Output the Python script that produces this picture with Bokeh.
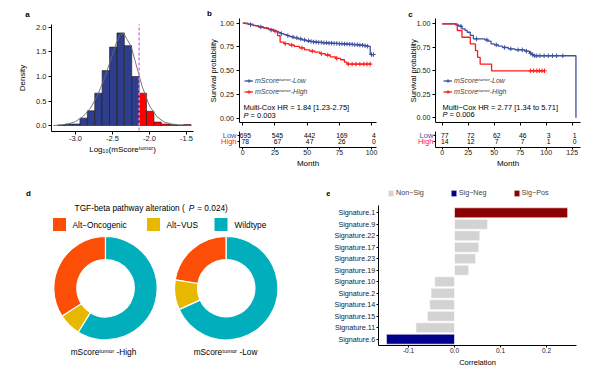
import numpy as np
from bokeh.plotting import figure
from bokeh.layouts import row, column
from bokeh.models import (Range1d, Label, LinearAxis, Legend, LegendItem, FixedTicker,
                          NumeralTickFormatter)
from bokeh.core.properties import value
from bokeh.embed import file_html
from bokeh.resources import INLINE

FONT = "Liberation Sans"
HIST_BLUE = "#2E3D8C"
HIST_RED = "#FF0000"
KM_BLUE = "#3E4FA3"
KM_RED = "#FF1A1A"

# ---------------- panel a data ----------------
hist_left = [-3.24, -3.14, -3.04, -2.94, -2.84, -2.74, -2.64, -2.54, -2.44,
             -2.34, -2.24, -2.14, -2.04, -1.94, -1.84, -1.74, -1.64, -1.54]
hist_density = [0.01, 0.03, 0.03, 0.15, 0.30, 0.66, 1.12, 1.60, 1.89,
                1.63, 1.00, 0.66, 0.29, 0.07, 0.03, 0.02, 0.01, 0.02]
bin_width = 0.1
cutoff = -2.14
dens_x = [-3.30, -3.20, -3.10, -3.00, -2.90, -2.80, -2.70, -2.60, -2.50, -2.45,
          -2.40, -2.35, -2.30, -2.25, -2.20, -2.10, -2.00, -1.90, -1.80, -1.70,
          -1.60, -1.50, -1.43]
dens_y = [0.0, 0.01, 0.03, 0.08, 0.18, 0.35, 0.62, 1.00, 1.45, 1.68,
          1.85, 1.88, 1.75, 1.62, 1.35, 0.80, 0.40, 0.18, 0.07, 0.03,
          0.01, 0.005, 0.0]
a_xticks = [-3.0, -2.5, -2.0, -1.5]
a_yticks = [0.0, 0.5, 1.0, 1.5, 2.0]

# ---------------- panel b data ----------------
b_low_t = [0, 2, 4, 6, 8, 10, 12, 14, 16, 18, 20, 22, 24, 26, 28, 30, 32, 34, 36, 38,
           40, 43, 46, 49, 52, 55, 58, 62, 66, 70, 74, 78, 82, 86, 90, 94, 97, 99, 101.5]
b_low_s = [1.0, 0.995, 0.99, 0.985, 0.978, 0.972, 0.966, 0.96, 0.952, 0.944,
           0.936, 0.928, 0.92, 0.91, 0.9, 0.89, 0.88, 0.87, 0.862, 0.854,
           0.846, 0.835, 0.824, 0.815, 0.808, 0.802, 0.798, 0.794, 0.79, 0.787,
           0.784, 0.781, 0.778, 0.774, 0.769, 0.763, 0.757, 0.67, 0.67]
b_high_t = [0, 4, 8, 12, 16, 20, 24, 27, 29, 32, 36, 40, 44, 48, 52, 56, 60, 64,
            68, 72, 76, 79, 81, 99]
b_high_s = [1.0, 0.99, 0.975, 0.96, 0.95, 0.935, 0.915, 0.87, 0.80, 0.785, 0.77,
            0.755, 0.74, 0.72, 0.705, 0.695, 0.68, 0.665, 0.645, 0.63, 0.615,
            0.59, 0.57, 0.57]
b_low_cens = [6, 14, 22, 30, 35, 39, 42, 45, 48, 51, 53, 55, 57, 59, 61, 63, 65, 67,
              69, 71, 73, 75, 77, 79, 81, 83, 85, 87, 89, 91, 93, 95, 97, 100, 101.5]
b_high_cens = [25, 33, 38, 46, 54, 61, 66, 73, 82, 85, 88, 91, 94, 96.5, 99]
b_risk_months = [0, 25, 50, 75, 100]
b_risk_low = [695, 545, 442, 169, 4]
b_risk_high = [78, 67, 47, 26, 0]
b_hr_text = "Multi-Cox HR = 1.84 [1.23-2.75]"
b_p_text = "= 0.003"

# ---------------- panel c data ----------------
c_low_t = [0, 13, 16, 19, 22, 24, 27, 30, 41, 44, 47, 50, 54, 58, 63.5, 70, 79.5,
           84, 86, 88, 128.6]
c_low_s = [1.0, 0.987, 0.974, 0.947, 0.93, 0.91, 0.876, 0.84, 0.828, 0.815, 0.787,
           0.776, 0.762, 0.748, 0.734, 0.723, 0.709, 0.687, 0.672, 0.66, 0.0]
c_high_t = [0, 14.5, 19, 27, 32, 34, 36.5, 47.5, 98.4]
c_high_s = [1.0, 0.929, 0.857, 0.786, 0.714, 0.643, 0.571, 0.5, 0.5]
c_low_cens = [18, 33, 43, 52, 60, 66, 73, 77, 81, 85, 87, 89, 91, 94, 98, 102, 106,
              110, 116]
c_high_cens = [85, 88, 91, 93.5, 96, 98.4]
c_risk_months = [0, 25, 50, 75, 100, 125]
c_risk_low = [77, 72, 62, 46, 3, 1]
c_risk_high = [14, 12, 7, 7, 1, 0]
c_hr_text = "Multi\u2212Cox HR = 2.77 [1.34 to 5.71]"
c_p_text = "= 0.006"
km_yticks = [0.0, 0.25, 0.5, 0.75, 1.0]

# ---------------- panel d data ----------------
d_categories = ["Alt\u2212Oncogenic", "Alt\u2212VUS", "Wildtype"]
d_colors = ["#FC4E07", "#E7B800", "#00AFBB"]
d_high_frac = [0.341, 0.071, 0.588]
d_low_frac = [0.224, 0.094, 0.682]

# ---------------- panel e data ----------------
e_sigs = ["Signature.1", "Signature.9", "Signature.22", "Signature.17", "Signature.23",
          "Signature.19", "Signature.10", "Signature.2", "Signature.14", "Signature.15",
          "Signature.11", "Signature.6"]
e_corr = [0.246, 0.072, 0.055, 0.053, 0.046, 0.031, -0.043, -0.051, -0.054, -0.059,
          -0.084, -0.148]
e_group = ["Sig-Pos", "Non-Sig", "Non-Sig", "Non-Sig", "Non-Sig", "Non-Sig",
           "Non-Sig", "Non-Sig", "Non-Sig", "Non-Sig", "Non-Sig", "Sig-Neg"]
e_group_labels = {"Non-Sig": "Non\u2212Sig", "Sig-Neg": "Sig\u2212Neg", "Sig-Pos": "Sig\u2212Pos"}
e_group_colors = {"Non-Sig": "#D3D3D3", "Sig-Neg": "#00008B", "Sig-Pos": "#8B0000"}
e_xticks = [-0.1, 0.0, 0.1, 0.2]

SUP = "\u1d57\u1d58\u1d50\u1d52\u02b3"  # superscript "tumor"


def base_fig(w, h, xr, yr, **kw):
    p = figure(width=w, height=h, x_range=xr, y_range=yr,
               min_border=0, min_border_left=0, min_border_right=0,
               min_border_top=0, min_border_bottom=0,
               x_axis_type=None, y_axis_type=None,
               toolbar_location=None, output_backend="svg", **kw)
    p.grid.visible = False
    p.outline_line_color = None
    p.background_fill_color = "white"
    p.border_fill_color = "white"
    return p


def style_axis(ax, lab="7px", title="8px", tick_out=3, standoff=2, tstand=3):
    ax.axis_line_color = "black"
    ax.axis_line_width = 1
    ax.major_tick_line_color = "black"
    ax.major_tick_line_width = 1
    ax.major_tick_in = 0
    ax.major_tick_out = tick_out
    ax.minor_tick_line_color = None
    ax.major_label_text_font = FONT
    ax.major_label_text_font_size = lab
    ax.major_label_text_color = "#1a1a1a"
    ax.major_label_standoff = standoff
    ax.axis_label_text_font = FONT
    ax.axis_label_text_font_style = "normal"
    ax.axis_label_text_font_size = title
    ax.axis_label_text_color = "black"
    ax.axis_label_standoff = tstand


def add_axis(p, side, fixed, bounds, ticks, fmt=None, label=None, lab="7px",
             title="8px", tick_out=3, standoff=2, tstand=3, overrides=None, **kw):
    ax = LinearAxis(fixed_location=fixed, bounds=bounds, ticker=FixedTicker(ticks=ticks),
                    **kw)
    if fmt is not None:
        ax.formatter = NumeralTickFormatter(format=fmt)
    if label is not None:
        ax.axis_label = label
    style_axis(ax, lab, title, tick_out, standoff, tstand)
    if overrides is not None:
        ax.major_label_overrides = overrides
    p.add_layout(ax, side)
    return ax


def lab(p, x, y, text, size="7.5px", align="left", style="normal", color="black",
        baseline="middle", **kw):
    p.add_layout(Label(x=x, y=y, text=text, text_font=FONT, text_font_size=size,
                       text_align=align, text_baseline=baseline,
                       text_font_style=style, text_color=color, **kw))


# ================= panel a =================
pa = base_fig(194, 166, Range1d(-4.0135, -1.3919), Range1d(-0.8367, 2.551))
h_right = [l + bin_width for l in hist_left]
h_col = [HIST_RED if l >= cutoff - 1e-9 else HIST_BLUE for l in hist_left]
pa.quad(left=hist_left, right=h_right, bottom=0, top=hist_density,
        fill_color=h_col, line_color="#1a1a1a", line_width=0.6)
pa.line(dens_x, dens_y, line_color="#6b6b6b", line_width=0.9)
pa.segment(x0=[cutoff], y0=[-0.1], x1=[cutoff], y1=[2.06], line_color="#E67FE6",
           line_dash="3 2", line_width=1.6)
add_axis(pa, "below", -0.122, (-3.324, -1.405), a_xticks, "0.0",
         "Log\u2081\u2080(mScore" + SUP + ")", lab="7.5px", title="8px", tstand=0)
add_axis(pa, "left", -3.324, (-0.122, 2.061), a_yticks, "0.0", "Density",
         lab="7.5px", title="8px", tstand=6)
lab(pa, -3.65, 2.265, "a", size="8px", align="center", style="bold")


# ================= KM panels (curve + number-at-risk table) =================
def at(times, surv, ts):
    idx = np.searchsorted(np.asarray(times), np.asarray(ts), side="right") - 1
    return list(np.asarray(surv)[idx])


def km_panel(w, xr, yr, ax_x, ybounds, xend, low_t, low_s, low_c, high_t, high_s,
             high_c, months, risk_low, risk_high, leg_x, hr_text, hr_xy, p_text,
             p_xy, p_eq_x, letter, letter_xy, lowhigh_x, ytitle_x):
    p = base_fig(w, 166, xr, yr)
    p.extra_y_ranges = {"risk": Range1d(-3.167, 24.5)}
    rl = p.step(low_t, low_s, mode="after", line_color=KM_BLUE, line_width=1.3)
    rh = p.step(high_t, high_s, mode="after", line_color=KM_RED, line_width=1.3)
    cl = p.scatter(low_c, at(low_t, low_s, low_c), marker="cross", size=4.5,
                   line_color=KM_BLUE, line_width=1)
    ch = p.scatter(high_c, at(high_t, high_s, high_c), marker="cross", size=4.5,
                   line_color=KM_RED, line_width=1)
    leg = Legend(items=[LegendItem(label="mScore" + SUP + "-Low", renderers=[rl, cl]),
                        LegendItem(label="mScore" + SUP + "-High", renderers=[rh, ch])],
                 location=(leg_x, 69.5), orientation="vertical", padding=0, margin=0,
                 spacing=0, glyph_width=9, glyph_height=11, label_height=11,
                 label_standoff=2, label_text_font=FONT, label_text_font_size="7px",
                 label_text_font_style="italic", background_fill_alpha=0,
                 border_line_color=None)
    p.add_layout(leg)
    # survival axes
    add_axis(p, "left", ax_x, ybounds, km_yticks, "0.00", None, lab="7.2px")
    lab(p, ytitle_x, 0.5, "Survival probability", size="7.5px", align="center",
        angle=np.pi / 2)
    add_axis(p, "below", ybounds[0], (ax_x, xend), months,
             overrides={m: "" for m in months}, standoff=0)
    # number-at-risk table
    n = len(months)
    p.text(x=list(months) * 2, y=[2] * n + [1] * n,
           text=[str(v) for v in risk_low] + [str(v) for v in risk_high],
           y_range_name="risk", text_align="center", text_baseline="middle",
           x_offset=2.5, text_font=value(FONT), text_font_size="6.8px",
           text_color="black")
    p.text(x=[lowhigh_x, lowhigh_x], y=[2, 1], text=["Low", "High"],
           y_range_name="risk", text_align="right", text_baseline="middle",
           text_font=value(FONT), text_font_size="7.5px",
           text_color=[KM_BLUE, KM_RED])
    add_axis(p, "left", ax_x, (0, 2.67), [1, 2], overrides={1: "", 2: ""},
             y_range_name="risk", tick_out=2, standoff=0)
    add_axis(p, "below", 0, (ax_x, xend), months, None, "Month", lab="7px",
             title="8px", tick_out=2, standoff=1, tstand=0, y_range_name="risk")
    lab(p, hr_xy[0], hr_xy[1], hr_text, size="7.5px")
    lab(p, p_xy[0], p_xy[1], "P", size="7.5px", style="italic")
    lab(p, p_eq_x, p_xy[1], p_text, size="7.5px")
    lab(p, letter_xy[0], letter_xy[1], letter, size="8px", align="center", style="bold")
    return p


pb = km_panel(198, Range1d(-37.53, 116.32), Range1d(-0.5084, 1.2389), -2.95,
              (-0.045, 1.049), 104.0,
              b_low_t, b_low_s, b_low_cens, b_high_t, b_high_s, b_high_cens,
              b_risk_months, b_risk_low, b_risk_high, 50, b_hr_text, (0.54, 0.113),
              b_p_text, (0.54, 0.028), 5.98, "b", (-25.9, 1.102), -4.9, -22.8)

pc = km_panel(208, Range1d(-47.79, 152.21), Range1d(-0.5181, 1.2479), -6.44,
              (-0.05, 1.056), 133.0,
              c_low_t, c_low_s, c_low_cens, c_high_t, c_high_s, c_high_cens,
              c_risk_months, c_risk_low, c_risk_high, 51, c_hr_text, (0.3, 0.11),
              c_p_text, (0.3, 0.035), 7.0, "c", (-30.5, 1.099), -8.5, -27.6)

# ================= panel d =================
pd_ = base_fig(330, 199, Range1d(0, 330), Range1d(0, 199))
R_OUT, R_IN = 51.7, 28.7
for cx, fr in ((105.0, d_high_frac), (225.7, d_low_frac)):
    cum = np.cumsum([0.0] + list(fr))
    starts = [np.pi / 2 + 2 * np.pi * c for c in cum[:-1]]
    ends = [np.pi / 2 + 2 * np.pi * c for c in cum[1:]]
    pd_.annular_wedge(x=[cx] * len(fr), y=[77.3] * len(fr), inner_radius=R_IN,
                      outer_radius=R_OUT, start_angle=starts, end_angle=ends,
                      fill_color=d_colors, line_color="white", line_width=1.2)
for kx, tx, col, name in ((59, 72, d_colors[0], d_categories[0]),
                          (153, 166, d_colors[1], d_categories[1]),
                          (220.5, 234, d_colors[2], d_categories[2])):
    pd_.rect(x=kx, y=141, width=14, height=14, fill_color=col, line_color="white")
    lab(pd_, tx, 141, name, size="8.3px")
lab(pd_, 184.3, 158, "TGF-beta pathway alteration (", size="8.3px", align="right")
lab(pd_, 188.3, 158, "P", size="8.3px", style="italic")
lab(pd_, 196.7, 158, "= 0.024)", size="8.3px")
lab(pd_, 103, 14, "mScore" + SUP + " -High", size="8.3px", align="center")
lab(pd_, 225, 14, "mScore" + SUP + " -Low", size="8.3px", align="center")
lab(pd_, 28, 172, "d", size="8px", align="center", style="bold")
lab(pd_, 328, 172, "e", size="8px", align="center", style="bold")

# ================= panel e =================
pe = base_fig(270, 199, Range1d(-0.26957, 0.31739), Range1d(-1.289, 16.03))
e_pos = list(range(len(e_sigs), 0, -1))
items = []
for g in ["Non-Sig", "Sig-Neg", "Sig-Pos"]:
    ys = [y for y, gg in zip(e_pos, e_group) if gg == g]
    xs = [v for v, gg in zip(e_corr, e_group) if gg == g]
    r = pe.hbar(y=ys, right=xs, left=0, height=0.87, fill_color=e_group_colors[g],
                line_color="white", line_width=0.6)
    items.append(LegendItem(label=e_group_labels[g], renderers=[r]))
pe.add_layout(Legend(items=items, location=(57, 168), orientation="horizontal",
                     padding=0, margin=0, spacing=26, glyph_width=7, glyph_height=8,
                     label_height=8, label_standoff=2, label_text_font=FONT,
                     label_text_font_size="7.2px", background_fill_alpha=0,
                     border_line_color=None))
add_axis(pe, "left", -0.1659, (0.452, 12.635), e_pos, None, None, lab="7.2px",
         tick_out=2, standoff=1, overrides={p_: s for p_, s in zip(e_pos, e_sigs)})
add_axis(pe, "below", 0.452, (-0.1659, 0.2652), e_xticks, "0.0", "Correlation",
         lab="6.5px", title="7.5px", tick_out=2, standoff=1, tstand=1)

layout = column(row(pa, pb, pc), row(pd_, pe))
open("out.html", "w").write(file_html(layout, INLINE))
